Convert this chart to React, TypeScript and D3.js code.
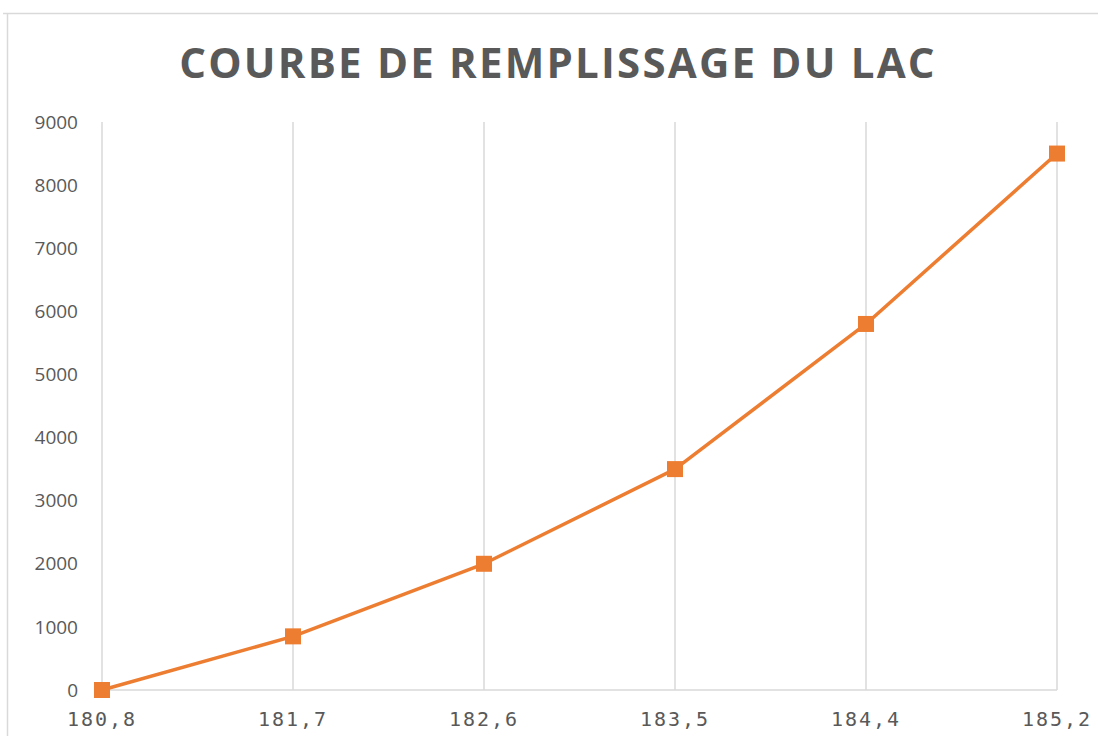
import React from 'react';
import * as d3 from 'd3';

const levels = ['180,8', '181,7', '182,6', '183,5', '184,4', '185,2'];
const volumes = [0, 850, 2000, 3500, 5800, 8500];
const yTicks = [0, 1000, 2000, 3000, 4000, 5000, 6000, 7000, 8000, 9000];

const W = 1098;
const H = 736;
const margin = { top: 122, right: 41, bottom: 46, left: 102 };

export default function App() {
  const innerW = W - margin.left - margin.right;
  const innerH = H - margin.top - margin.bottom;

  const x = d3.scalePoint<string>().domain(levels).range([0, innerW]);
  const y = d3.scaleLinear().domain([0, 9000]).range([innerH, 0]);

  const line = d3
    .line<number>()
    .x((_, i) => x(levels[i]) as number)
    .y(d => y(d));

  return (
    <div style={{ position: 'fixed', top: 0, left: 0 }}>
      <svg width={W} height={H} style={{ display: 'block', background: '#fff' }}>
        {/* chart frame */}
        <line x1={3} x2={W} y1={13.5} y2={13.5} stroke="#d9d9d9" strokeWidth={1.5} />
        <line x1={7.5} x2={7.5} y1={13} y2={H} stroke="#d9d9d9" strokeWidth={1.5} />

        <text
          x={558}
          y={78}
          textAnchor="middle"
          fontFamily="'Open Sans', sans-serif"
          fontWeight={700}
          fontSize={42}
          letterSpacing={2.2}
          fill="#595959"
        >
          COURBE DE REMPLISSAGE DU LAC
        </text>

        <g transform={`translate(${margin.left},${margin.top})`}>
          {levels.map(l => (
            <line
              key={l}
              x1={x(l)}
              x2={x(l)}
              y1={0}
              y2={innerH}
              stroke="#d9d9d9"
              strokeWidth={1.5}
            />
          ))}
          <line x1={0} x2={innerW} y1={innerH} y2={innerH} stroke="#d9d9d9" strokeWidth={1.5} />

          {yTicks.map(t => (
            <text
              key={t}
              x={-24}
              y={y(t)}
              dy="0.35em"
              textAnchor="end"
              fontFamily="'Open Sans', sans-serif"
              fontSize={19}
              fill="#595959"
            >
              {t}
            </text>
          ))}

          {levels.map(l => (
            <text
              key={l}
              x={x(l)}
              y={innerH + 36}
              textAnchor="middle"
              fontFamily="'DejaVu Sans Mono', monospace"
              fontSize={20}
              letterSpacing={2}
              fill="#595959"
            >
              {l}
            </text>
          ))}

          <path d={line(volumes) ?? ''} fill="none" stroke="#ED7D31" strokeWidth={3.5} strokeLinejoin="round" />
          {volumes.map((v, i) => (
            <rect
              key={i}
              x={(x(levels[i]) as number) - 8}
              y={y(v) - 8}
              width={16}
              height={16}
              fill="#ED7D31"
            />
          ))}
        </g>
      </svg>
    </div>
  );
}
